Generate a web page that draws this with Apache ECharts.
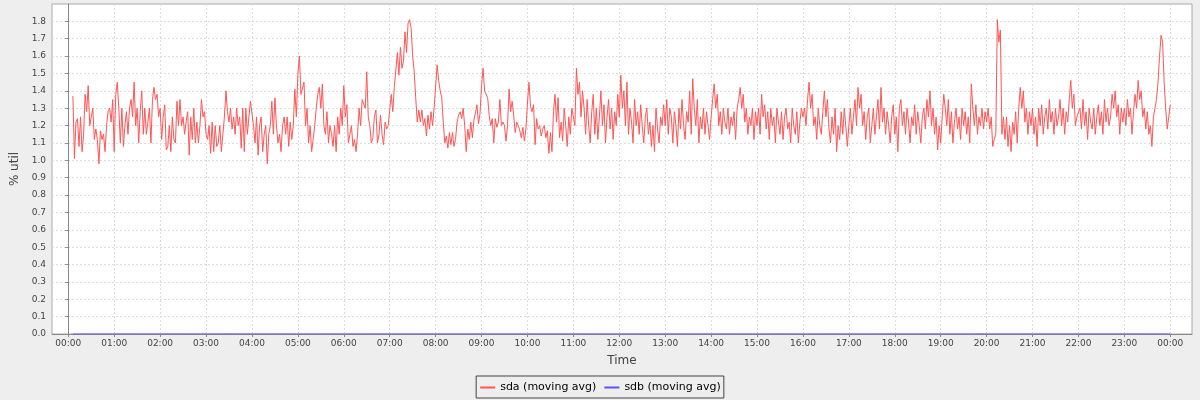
<!DOCTYPE html>
<html>
<head>
<meta charset="utf-8">
<script src="https://cdn.jsdelivr.net/npm/echarts@6/dist/echarts.min.js"></script>
<style>
  html, body { margin: 0; padding: 0; background: #eeeeee; }
  #chart { width: 1200px; height: 400px; }
</style>
</head>
<body>
<div id="chart"></div>
<script>
// ---- data (% util, 2-minute samples) ----
const seriesNames = ['sda (moving avg)', 'sdb (moving avg)'];
const seriesColors = ['#ff5555', '#5555ff'];
const startMinute = 6;   // first sample at 00:06
const stepMinutes = 2;

const h00 = [1.37,1.01,1.22,1.24,1.08, 1.25,1.05,1.15,1.38,1.28, 1.43,1.2,1.25,1.3,1.12, 1.18,1.12,0.98,1.17,1.12, 1.15,1.05,1.2,1.28,1.3, 1.22,1.35];
const h01 = [1.05,1.38,1.45,1.3,1.1, 1.3,1.08,1.2,1.28,1.15, 1.3,1.35,1.25,1.45,1.2, 1.3,1.1,1.28,1.4,1.15, 1.3,1.15,1.22,1.3,1.1, 1.35,1.42,1.35,1.38,1.25];
const h02 = [1.3,1.12,1.25,1.32,1.06, 1.08,1.2,1.05,1.25,1.12, 1.1,1.34,1.2,1.35,1.2, 1.25,1.15,1.22,1.28,1.03, 1.25,1.12,1.3,1.1,1.22, 1.1,1.2,1.35,1.25,1.28];
const h03 = [1.15,1.12,1.2,1.04,1.22, 1.05,1.2,1.08,1.1,1.2, 1.05,1.15,1.25,1.4,1.28, 1.22,1.3,1.18,1.25,1.15, 1.3,1.2,1.25,1.07,1.3, 1.05,1.3,1.15,1.25,1.34];
const h04 = [1.33,1.2,1.1,1.25,1.03, 1.2,1.25,1.05,1.15,1.2, 0.98,1.15,1.2,1.34,1.15, 1.36,1.2,1.1,1.15,1.05, 1.2,1.25,1.15,1.25,1.08, 1.22,1.12,1.2,1.41,1.25];
const h05 = [1.5,1.6,1.38,1.38,1.45, 1.2,1.3,1.1,1.2,1.05, 1.12,1.2,1.3,1.38,1.42, 1.3,1.44,1.2,1.15,1.28, 1.1,1.2,1.15,1.08,1.2, 1.05,1.25,1.15,1.3,1.2];
const h06 = [1.43,1.25,1.32,1.1,1.15, 1.2,1.08,1.12,1.05,1.15, 1.3,1.2,1.35,1.35,1.3, 1.51,1.25,1.2,1.1,1.13, 1.25,1.29,1.1,1.15,1.26, 1.15,1.09,1.22,1.18,1.2];
const h07 = [1.2,1.38,1.28,1.42,1.43, 1.62,1.49,1.65,1.53,1.57, 1.74,1.62,1.79,1.81,1.76, 1.6,1.51,1.36,1.22,1.29, 1.22,1.29,1.2,1.24,1.14, 1.26,1.18,1.28,1.2,1.3];
const h08 = [1.3,1.55,1.46,1.4,1.36, 1.22,1.1,1.14,1.07,1.16, 1.09,1.16,1.08,1.12,1.22, 1.26,1.28,1.24,1.3,1.2, 1.05,1.18,1.12,1.22,1.13, 1.23,1.22,1.32,1.21,1.27];
const h09 = [1.43,1.53,1.4,1.41,1.36, 1.26,1.2,1.24,1.1,1.24, 1.19,1.22,1.35,1.2,1.22, 1.2,1.11,1.2,1.41,1.28, 1.34,1.26,1.16,1.22,1.2, 1.17,1.13,1.19,1.11,1.18];
const h10 = [1.33,1.45,1.31,1.28,1.32, 1.09,1.24,1.18,1.2,1.14, 1.18,1.2,1.13,1.17,1.04, 1.16,1.05,1.28,1.38,1.22, 1.36,1.13,1.22,1.11,1.3, 1.2,1.08,1.25,1.15,1.3];
const h11 = [1.3,1.2,1.53,1.38,1.45, 1.25,1.4,1.3,1.15,1.35, 1.2,1.1,1.28,1.38,1.15, 1.3,1.12,1.25,1.4,1.2, 1.32,1.1,1.25,1.35,1.18, 1.3,1.12,1.28,1.2,1.38];
const h12 = [1.25,1.49,1.3,1.4,1.2, 1.45,1.15,1.3,1.22,1.1, 1.35,1.2,1.28,1.15,1.32, 1.2,1.1,1.25,1.3,1.15, 1.22,1.08,1.2,1.05,1.3, 1.18,1.1,1.25,1.2,1.32];
const h13 = [1.2,1.35,1.15,1.3,1.25, 1.1,1.28,1.2,1.08,1.3, 1.18,1.35,1.2,1.12,1.28, 1.22,1.4,1.15,1.47,1.3, 1.2,1.35,1.1,1.25,1.18, 1.3,1.15,1.28,1.2,1.12];
const h14 = [1.25,1.35,1.44,1.3,1.38, 1.2,1.28,1.15,1.3,1.22, 1.18,1.3,1.15,1.25,1.2, 1.28,1.12,1.3,1.35,1.42, 1.3,1.38,1.22,1.3,1.15, 1.25,1.2,1.3,1.12,1.28];
const h15 = [1.2,1.3,1.15,1.38,1.25, 1.32,1.18,1.28,1.12,1.3, 1.2,1.25,1.1,1.3,1.22, 1.15,1.28,1.12,1.25,1.3, 1.18,1.22,1.1,1.3,1.2, 1.15,1.28,1.1,1.22,1.3];
const h16 = [1.25,1.3,1.2,1.35,1.45, 1.3,1.38,1.2,1.25,1.12, 1.3,1.2,1.15,1.28,1.4, 1.25,1.35,1.18,1.1,1.25, 1.15,1.3,1.05,1.2,1.12, 1.28,1.15,1.3,1.2,1.08];
const h17 = [1.2,1.3,1.15,1.25,1.35, 1.2,1.42,1.3,1.38,1.2, 1.28,1.12,1.25,1.3,1.1, 1.2,1.3,1.15,1.25,1.35, 1.18,1.42,1.22,1.3,1.15, 1.28,1.2,1.1,1.25,1.32];
const h18 = [1.15,1.25,1.05,1.3,1.35, 1.2,1.28,1.15,1.3,1.22, 1.1,1.25,1.2,1.32,1.15, 1.28,1.2,1.1,1.25,1.3, 1.18,1.35,1.25,1.4,1.2, 1.3,1.15,1.25,1.06,1.2];
const h19 = [1.1,1.25,1.38,1.3,1.2, 1.35,1.15,1.28,1.1,1.22, 1.3,1.18,1.25,1.12,1.3, 1.2,1.28,1.15,1.25,1.1, 1.44,1.3,1.2,1.32,1.15, 1.25,1.2,1.3,1.18,1.28];
const h20 = [1.22,1.3,1.18,1.25,1.08, 1.12,1.15,1.81,1.68,1.75, 1.15,1.25,1.12,1.25,1.08, 1.2,1.05,1.22,1.15,1.28, 1.1,1.3,1.42,1.3,1.4, 1.22,1.3,1.15,1.28,1.2];
const h21 = [1.3,1.15,1.25,1.08,1.3, 1.2,1.32,1.15,1.25,1.3, 1.18,1.35,1.22,1.28,1.15, 1.3,1.2,1.25,1.35,1.2, 1.3,1.15,1.28,1.22,1.35, 1.46,1.3,1.38,1.2,1.25];
const h22 = [1.25,1.3,1.18,1.35,1.2, 1.28,1.12,1.3,1.22,1.18, 1.3,1.15,1.25,1.32,1.2, 1.28,1.15,1.35,1.22,1.3, 1.2,1.25,1.38,1.3,1.4, 1.25,1.32,1.15,1.3,1.22];
const h23 = [1.3,1.2,1.35,1.25,1.3, 1.15,1.28,1.38,1.3,1.46, 1.35,1.4,1.25,1.3,1.18, 1.28,1.15,1.2,1.08,1.25, 1.3,1.35,1.45,1.6,1.72, 1.68,1.45,1.3,1.18,1.25];
const h24 = [1.32];

const sdbValue = 0; // sdb stays at 0 % util for the whole day

const xTickLabels = ['00:00','01:00','02:00','03:00','04:00','05:00','06:00','07:00','08:00','09:00','10:00','11:00',
                     '12:00','13:00','14:00','15:00','16:00','17:00','18:00','19:00','20:00','21:00','22:00','23:00','00:00'];
const yTickLabels = ['0.0','0.1','0.2','0.3','0.4','0.5','0.6','0.7','0.8','0.9','1.0','1.1','1.2','1.3','1.4','1.5','1.6','1.7','1.8'];

// ---- build ----
const sda = [].concat(h00,h01,h02,h03,h04,h05,h06,h07,h08,h09,h10,h11,h12,h13,h14,h15,h16,h17,h18,h19,h20,h21,h22,h23,h24);
const sdaData = sda.map((v, i) => [startMinute + i * stepMinutes, v]);
const sdbData = sda.map((v, i) => [startMinute + i * stepMinutes, sdbValue]);
const xTickValues = xTickLabels.map((s, i) => i * 60);
const yTickValues = yTickLabels.map(s => parseFloat(s));

const chart = echarts.init(document.getElementById('chart'), null, {renderer: 'canvas'});
const FONT = 'DejaVu Sans';
chart.setOption({
  animation: false,
  backgroundColor: '#eeeeee',
  textStyle: { fontFamily: FONT },
  grid: { left: 52, right: 8, top: 4, bottom: 66, show: true, backgroundColor: '#ffffff', borderColor: '#aaaaaa', borderWidth: 1 },
  legend: {
    data: seriesNames,
    left: 'center', top: 376,
    orient: 'horizontal',
    itemWidth: 15, itemHeight: 1, itemGap: 7,
    padding: [5, 3, 4, 3],
    borderColor: '#444444', borderWidth: 1,
    textStyle: { fontFamily: FONT, fontSize: 11, color: '#000', lineHeight: 13 }
  },
  xAxis: {
    type: 'value', min: -21.3, max: 1468.4,
    name: 'Time', nameLocation: 'middle', nameGap: 21,
    nameTextStyle: { fontFamily: FONT, fontSize: 12, color: '#444' },
    axisLine: { show: true, onZero: false, lineStyle: { color: '#888888', width: 1 } },
    axisTick: { show: true, length: 3, lineStyle: { color: '#888888' }, customValues: xTickValues },
    axisLabel: { customValues: xTickValues, fontFamily: FONT, fontSize: 9, color: '#444', margin: 5,
      formatter: v => xTickLabels[Math.round(v / 60)] },
    splitLine: { show: true, lineStyle: { color: '#dddddd', type: [2, 2], width: 1 } }
  },
  yAxis: {
    type: 'value', min: 0, max: 1.9,
    name: '% util', nameLocation: 'middle', nameGap: 24,
    nameTextStyle: { fontFamily: FONT, fontSize: 12, color: '#444' },
    axisLine: { show: true, lineStyle: { color: '#888888', width: 1 } },
    axisTick: { show: true, length: 3, lineStyle: { color: '#888888' }, customValues: yTickValues },
    axisLabel: { customValues: yTickValues, fontFamily: FONT, fontSize: 9, color: '#444', margin: 6,
      formatter: v => yTickLabels[Math.round(v * 10)] },
    splitLine: { show: true, lineStyle: { color: '#dddddd', type: [2, 2], width: 1 } }
  },
  series: [
    { name: seriesNames[0], type: 'line', data: sdaData, showSymbol: false, symbol: 'none',
      lineStyle: { color: seriesColors[0], width: 1 }, itemStyle: { color: seriesColors[0] } },
    { name: seriesNames[1], type: 'line', data: sdbData, showSymbol: false, symbol: 'none',
      lineStyle: { color: seriesColors[1], width: 1 }, itemStyle: { color: seriesColors[1] } }
  ]
});
</script>
</body>
</html>
